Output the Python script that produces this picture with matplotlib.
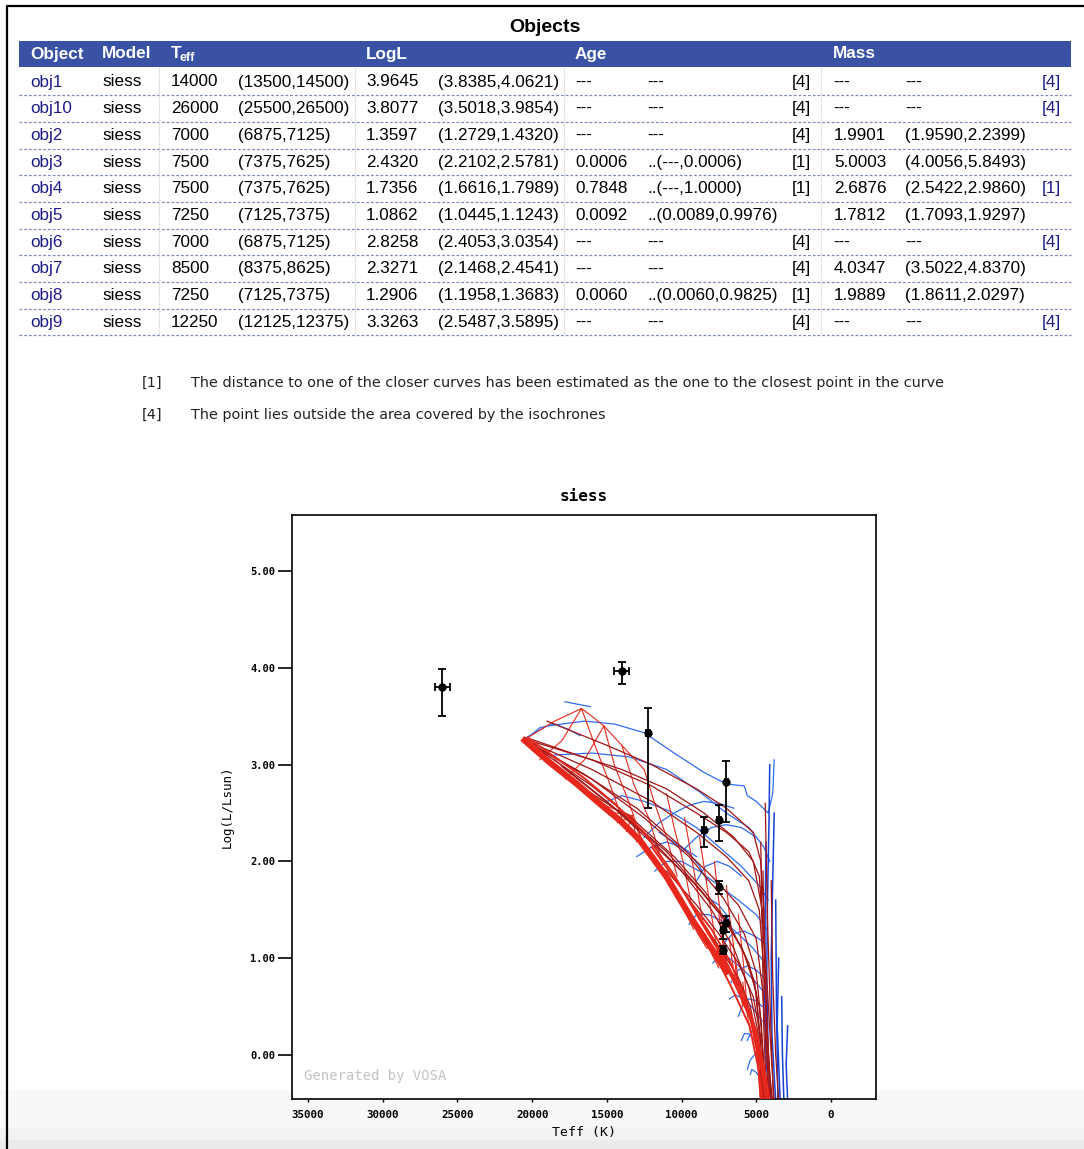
import numpy as np
import matplotlib
matplotlib.use('Agg')
from matplotlib import pyplot as plt

# ---- table data ----
objects = ['obj1', 'obj10', 'obj2', 'obj3', 'obj4', 'obj5', 'obj6', 'obj7', 'obj8', 'obj9']
models = ['siess'] * 10
teff = [14000, 26000, 7000, 7500, 7500, 7250, 7000, 8500, 7250, 12250]
teff_lo = [13500, 25500, 6875, 7375, 7375, 7125, 6875, 8375, 7125, 12125]
teff_hi = [14500, 26500, 7125, 7625, 7625, 7375, 7125, 8625, 7375, 12375]
logl = [3.9645, 3.8077, 1.3597, 2.4320, 1.7356, 1.0862, 2.8258, 2.3271, 1.2906, 3.3263]
logl_lo = [3.8385, 3.5018, 1.2729, 2.2102, 1.6616, 1.0445, 2.4053, 2.1468, 1.1958, 2.5487]
logl_hi = [4.0621, 3.9854, 1.4320, 2.5781, 1.7989, 1.1243, 3.0354, 2.4541, 1.3683, 3.5895]
age = ['---', '---', '---', '0.0006', '0.7848', '0.0092', '---', '---', '0.0060', '---']
age_rng = ['---', '---', '---', '..(---,0.0006)', '..(---,1.0000)', '..(0.0089,0.9976)',
           '---', '---', '..(0.0060,0.9825)', '---']
age_note = ['[4]', '[4]', '[4]', '[1]', '[1]', '', '[4]', '[4]', '[1]', '[4]']
mass = ['---', '---', '1.9901', '5.0003', '2.6876', '1.7812', '---', '4.0347', '1.9889', '---']
mass_rng = ['---', '---', '(1.9590,2.2399)', '(4.0056,5.8493)', '(2.5422,2.9860)',
            '(1.7093,1.9297)', '---', '(3.5022,4.8370)', '(1.8611,2.0297)', '---']
mass_note = ['[4]', '[4]', '', '', '[1]', '', '[4]', '', '', '[4]']

notes = ['[1]', '[4]']
note_txt = ['The distance to one of the closer curves has been estimated as the one to the closest point in the curve',
            'The point lies outside the area covered by the isochrones']

# ---- isochrones / tracks (Teff, logL) ----
zams_t = [20500, 18800, 17000, 15500, 14100, 12800, 11000, 9300, 7600, 7000]
zams_l = [3.25, 3.02, 2.80, 2.60, 2.42, 2.22, 1.84, 1.40, 1.01, 0.86]
ms_low = [
    ([7800, 6600, 5450, 4800, 4550], [1.05, 0.68, 0.30, -0.18, -0.48]),
    ([7600, 6500, 5400, 4900, 4700], [1.08, 0.76, 0.38, 0.00, -0.48]),
    ([20300, 18500, 16500, 14500, 12500, 10500, 8800, 7300, 6200, 5200, 4600, 4350],
     [3.28, 3.08, 2.86, 2.60, 2.30, 1.86, 1.40, 1.02, 0.66, 0.30, -0.20, -0.48]),
    ([12000, 10000, 8500, 7200, 6000, 5100, 4500, 4200],
     [2.15, 1.72, 1.35, 1.02, 0.65, 0.25, -0.20, -0.48]),
    ([9500, 8000, 6800, 5800, 5000, 4400, 4100], [1.60, 1.30, 0.98, 0.62, 0.25, -0.20, -0.48]),
]

iso_dark = [
    ([19000, 15000, 12000, 9000, 7000, 5200, 4700, 4500, 4350, 4200],
     [3.45, 3.20, 3.00, 2.75, 2.55, 2.30, 2.00, 1.50, 0.50, -0.48]),
    ([20400, 16000, 12000, 9000, 7000, 5500, 4800, 4500, 4300, 4100],
     [3.26, 3.05, 2.78, 2.50, 2.30, 2.10, 1.85, 1.20, 0.40, -0.48]),
    ([20400, 16000, 12000, 9000, 7000, 5500, 4800, 4500, 4250, 4000],
     [3.25, 2.95, 2.62, 2.30, 2.05, 1.80, 1.50, 0.90, 0.20, -0.48]),
    ([20300, 16500, 13000, 10000, 8000, 6200, 5000, 4600, 4300, 4150],
     [3.24, 2.90, 2.55, 2.15, 1.85, 1.55, 1.20, 0.70, 0.00, -0.48]),
    ([19500, 16000, 13000, 10500, 8500, 6800, 5500, 4800, 4500, 4350],
     [3.15, 2.78, 2.40, 2.05, 1.70, 1.35, 0.95, 0.50, -0.05, -0.48]),
    ([18500, 15000, 12000, 10000, 8000, 6500, 5500, 4900, 4600],
     [3.05, 2.62, 2.22, 1.90, 1.50, 1.10, 0.70, 0.25, -0.48]),
    ([20200, 17000, 14000, 11000, 8500, 6500, 5200, 4600, 4300, 4000, 3800],
     [3.27, 3.10, 2.95, 2.75, 2.50, 2.25, 2.00, 1.50, 0.80, 0.00, -0.48]),
    ([17000, 14000, 11000, 8800, 7000, 5800, 5000, 4700, 4500],
     [2.80, 2.50, 2.10, 1.72, 1.38, 1.05, 0.65, 0.10, -0.48]),
    ([20000, 16000, 12500, 9500, 7200, 5800, 5000, 4650, 4450],
     [3.20, 2.85, 2.45, 2.05, 1.62, 1.25, 0.85, 0.30, -0.48]),
    ([18000, 14500, 11500, 9200, 7400, 6000, 5100, 4750, 4600],
     [2.98, 2.55, 2.12, 1.78, 1.45, 1.12, 0.75, 0.15, -0.48]),
    ([11000, 9000, 7500, 6200, 5200, 4600, 4400], [1.90, 1.55, 1.25, 0.95, 0.60, 0.10, -0.48]),
    ([8500, 7200, 6200, 5400, 4800, 4500], [1.35, 1.05, 0.80, 0.50, 0.05, -0.48]),
    ([7000, 6200, 5500, 5000, 4700], [0.95, 0.72, 0.45, 0.10, -0.48]),
    ([4700, 4600, 4500, 4300], [2.20, 1.20, 0.30, -0.48]),
    ([4000, 3900, 3700, 3500], [1.80, 0.80, 0.00, -0.48]),
    ([4400, 4250, 4050, 3850], [2.60, 1.40, 0.40, -0.48]),
    ([4550, 4450, 4300, 4100, 3900], [1.90, 1.00, 0.30, -0.20, -0.48]),
]

iso_fan = [
    ([16700, 15800, 14800, 14000], [3.58, 3.20, 2.80, 2.45]),
    ([15200, 14500, 13500, 12600], [3.40, 3.00, 2.60, 2.20]),
    ([14000, 13200, 12200, 11300], [3.20, 2.80, 2.45, 2.00]),
    ([12500, 11800, 11000, 10300], [2.95, 2.60, 2.25, 1.85]),
    ([11000, 10500, 9900, 9400], [2.70, 2.35, 2.00, 1.60]),
    ([9800, 9400, 9000, 8600], [2.45, 2.10, 1.75, 1.40]),
    ([8800, 8500, 8100, 7700], [2.25, 1.95, 1.55, 1.15]),
    ([7800, 7600, 7300, 7000], [2.00, 1.70, 1.35, 0.95]),
    ([7000, 6800, 6500, 6300], [1.75, 1.45, 1.10, 0.75]),
    ([6200, 6000, 5800, 5600], [1.45, 1.15, 0.85, 0.45]),
    ([20500, 18500, 16700, 16000, 15200, 14000, 12500], [3.26, 3.45, 3.58, 3.50, 3.40, 3.20, 2.95]),
    ([16700, 18000, 19500], [3.58, 3.25, 3.05]),
    ([15200, 16500, 17800], [3.40, 3.05, 2.85]),
    ([13300, 15800], [2.47, 2.62]), ([13300, 15000], [2.47, 2.52]),
    ([13300, 14300], [2.47, 2.40]), ([13300, 13700], [2.47, 2.31]),
    ([13300, 13000], [2.47, 2.20]), ([13300, 12400], [2.47, 2.10]),
    ([10500, 9800, 9200], [1.75, 1.50, 1.30]), ([9500, 8900, 8300], [1.50, 1.25, 1.10]),
    ([8400, 8000, 7500], [1.25, 1.05, 0.90]),
    ([7500, 7300, 7000], [1.45, 1.20, 0.95]),
    ([6800, 6600, 6300], [1.20, 0.95, 0.70]),
    ([6400, 6200, 5900], [1.00, 0.75, 0.50]),
    ([5900, 5700, 5400], [0.75, 0.50, 0.25]),
]

tracks = [
    ([3800, 3900, 4200, 5000, 5600, 5800, 7000, 8500, 10500, 12500, 14500, 16500, 19000, 20500],
     [3.05, 2.70, 2.50, 2.62, 2.68, 2.78, 2.80, 2.92, 3.12, 3.33, 3.42, 3.45, 3.40, 3.27]),
    ([17800, 16800, 16100], [3.65, 3.62, 3.60]),
    ([20500, 19500, 18500, 17500, 16800], [3.25, 3.38, 3.42, 3.36, 3.30]),
    ([4100, 4500, 5500, 7000, 8800, 11000, 13500, 16000, 18500],
     [2.00, 2.15, 2.35, 2.50, 2.72, 2.95, 3.08, 3.12, 3.10]),
    ([4200, 4800, 6000, 7500, 9000, 10800, 12500, 14000, 15000],
     [1.60, 1.75, 1.95, 2.15, 2.35, 2.52, 2.62, 2.68, 2.62]),
    ([4300, 5000, 6200, 7500, 8800, 10000, 11000, 11800],
     [1.30, 1.45, 1.60, 1.75, 1.90, 2.00, 2.00, 1.90]),
    ([4400, 5200, 6200, 7200, 8200, 9000, 9500], [0.95, 1.10, 1.25, 1.38, 1.45, 1.45, 1.35]),
    ([4500, 5200, 6000, 6800, 7500, 7900], [0.65, 0.78, 0.90, 1.00, 1.02, 0.95]),
    ([4600, 5200, 5800, 6400, 6800], [0.35, 0.48, 0.58, 0.62, 0.58]),
    ([4700, 5100, 5500, 5800, 6000], [0.05, 0.15, 0.22, 0.22, 0.15]),
    ([4700, 5000, 5300, 5400], [-0.25, -0.18, -0.15, -0.20]),
    ([11500, 10500, 9500, 8800, 8300], [2.30, 2.20, 2.08, 1.95, 1.80]),
    ([8000, 7500, 7000, 6600], [1.60, 1.55, 1.45, 1.30]),
    ([4400, 5000, 5800, 6600, 7200, 7500], [1.15, 1.22, 1.28, 1.25, 1.15, 1.05]),
    ([4500, 5000, 5600, 6200, 6700], [0.80, 0.88, 0.92, 0.88, 0.75]),
    ([4600, 5000, 5500, 5900, 6200], [0.50, 0.56, 0.58, 0.52, 0.40]),
    ([4700, 5000, 5300, 5600], [0.20, 0.25, 0.25, 0.15]),
    ([4300, 4600, 5000, 5400, 5600], [-0.05, 0.00, 0.02, -0.05, -0.15]),
    ([6000, 6800, 7600, 8400, 9000], [1.85, 1.95, 2.00, 1.95, 1.80]),
    ([5000, 6000, 7000, 8000, 9000, 10000], [2.25, 2.35, 2.38, 2.35, 2.25, 2.10]),
    ([6500, 7500, 8500, 9500, 10500, 11500, 12500], [2.55, 2.60, 2.62, 2.58, 2.50, 2.40, 2.25]),
    ([9000, 10000, 11000, 12000, 13000], [2.05, 2.15, 2.20, 2.15, 2.05]),
]
hayashi = [
    ([4100, 4150, 4250, 4300, 4200, 4000], [3.00, 2.40, 1.60, 0.80, 0.00, -0.48]),
    ([3800, 3900, 4000, 3950, 3700], [2.50, 1.80, 1.00, 0.20, -0.48]),
    ([4350, 4400, 4450, 4350, 4150], [2.20, 1.50, 0.70, 0.00, -0.48]),
    ([3500, 3600, 3400], [1.00, 0.30, -0.48]),
    ([2900, 3000, 2900], [0.30, -0.10, -0.48]),
    ([3300, 3250, 3150], [0.60, 0.00, -0.48]),
    ([3700, 3650, 3550], [1.60, 0.50, -0.48]),
]

# ---- figure ----
fig = plt.figure(figsize=(10.84, 11.49), dpi=100)
page = fig.add_axes([0, 0, 1, 1])
page.set_xlim(0, 1084)
page.set_ylim(1149, 0)
page.axis('off')

# bottom grey band of the page
page.fill_between([0, 1084], 1090, 1128, color='#f8f8f8', lw=0, zorder=0)
page.fill_between([0, 1084], 1128, 1140, color='#f2f2f2', lw=0, zorder=0)
page.fill_between([0, 1084], 1140, 1149, color='#ebebeb', lw=0, zorder=0)
page.plot([7, 7, 1084], [1149, 6, 6], color='black', lw=1.6)

tf = 'Liberation Sans'
fs = 12.3
navy = '#1c1c8a'
page.text(545, 27, 'Objects', ha='center', va='center', fontsize=14, fontweight='bold', family=tf)
page.fill_between([19, 1071], 41, 67, color='#3a52a3', lw=0)
hdr = [(30, 'Object'), (102, 'Model'), (366, 'LogL'), (575, 'Age'), (833, 'Mass')]
for x, s in hdr:
    page.text(x, 54, s, ha='left', va='center', color='white', fontsize=fs, fontweight='bold', family=tf)
page.text(171, 54, 'T', ha='left', va='center', color='white', fontsize=fs, fontweight='bold', family=tf)
page.text(180, 58, 'eff', ha='left', va='center', color='white', fontsize=9, fontweight='bold', family=tf)

row_y = 82
dy = 26.7
for i in range(len(objects)):
    y = row_y + i * dy
    page.text(30, y, objects[i], va='center', fontsize=fs, family=tf, color=navy)
    page.text(102, y, models[i], va='center', fontsize=fs, family=tf)
    page.text(171, y, str(teff[i]), va='center', fontsize=fs, family=tf)
    page.text(238, y, '(%d,%d)' % (teff_lo[i], teff_hi[i]), va='center', fontsize=fs, family=tf)
    page.text(366, y, '%.4f' % logl[i], va='center', fontsize=fs, family=tf)
    page.text(438, y, '(%.4f,%.4f)' % (logl_lo[i], logl_hi[i]), va='center', fontsize=fs, family=tf)
    page.text(575, y, age[i], va='center', fontsize=fs, family=tf)
    page.text(647, y, age_rng[i], va='center', fontsize=fs, family=tf)
    page.text(792, y, age_note[i], va='center', fontsize=fs, family=tf)
    page.text(833 if mass[i] == '---' else 834, y, mass[i], va='center', fontsize=fs, family=tf)
    page.text(905, y, mass_rng[i], va='center', fontsize=fs, family=tf)
    page.text(1042, y, mass_note[i], va='center', fontsize=fs, family=tf, color=navy)
    page.plot([19, 1071], [y + 13.2, y + 13.2], color='#7f88c0', lw=0.9, ls=(0, (2.2, 1.6)))
for x in [159, 355, 564, 821]:
    page.plot([x, x], [68, 335], color='#c8c8c8', lw=0.8, ls=(0, (1, 1)))

for k in range(len(notes)):
    y = 383 + k * 32
    page.text(142, y, notes[k], va='center', fontsize=10.4, family='DejaVu Sans', color='#222222')
    page.text(191, y, note_txt[k], va='center', fontsize=10.4, family='DejaVu Sans', color='#222222')

# ---- HR diagram ----
mono = 'DejaVu Sans Mono'
ax = fig.add_axes([292 / 1084, 1 - 1099 / 1149, 584 / 1084, 584 / 1149])
ax.set_facecolor('white')
red = '#e8281c'
dred = '#a31414'
blue = '#2f6cf2'
dblue = '#1442d6'

for t, l in tracks:
    ax.plot(t, l, color=blue, lw=0.9, zorder=2)
for t, l in iso_fan:
    ax.plot(t, l, color=red, lw=0.8, zorder=3)
for t, l in iso_dark:
    ax.plot(t, l, color=dred, lw=0.9, zorder=3)
for t, l in hayashi:
    ax.plot(t, l, color=dblue, lw=1.1, zorder=2)
for t, l in ms_low:
    ax.plot(t, l, color=red, lw=1.4, zorder=4)
ax.plot(zams_t, zams_l, color=red, lw=4.5, zorder=4)

teff_a = np.array(teff)
logl_a = np.array(logl)
xerr = [teff_a - np.array(teff_lo), np.array(teff_hi) - teff_a]
yerr = [logl_a - np.array(logl_lo), np.array(logl_hi) - logl_a]
ax.errorbar(teff_a, logl_a, xerr=xerr, yerr=yerr, fmt='o', color='black', ms=5,
            elinewidth=1.3, capsize=3, capthick=1.3, zorder=6)

ax.set_xlim(36071, -3012)
ax.set_ylim(-0.455, 5.58)
ax.set_xticks([35000, 30000, 25000, 20000, 15000, 10000, 5000, 0])
ax.set_xticklabels(['%d' % v for v in ax.get_xticks()])
ax.set_yticks([0, 1, 2, 3, 4, 5])
ax.set_yticklabels(['%.2f' % v for v in ax.get_yticks()])
ax.tick_params(axis='y', direction='out', length=10, width=1.2, pad=2, labelsize=7.5)
ax.tick_params(axis='x', direction='out', length=2, width=1.0, pad=6, labelsize=7.8)
for lab in ax.get_xticklabels() + ax.get_yticklabels():
    lab.set_family(mono)
    lab.set_fontweight('bold')
for sp in ax.spines.values():
    sp.set_linewidth(1.2)
ax.set_title('siess', fontsize=11.5, fontweight='bold', family=mono, pad=10)
ax.set_xlabel('Teff (K)', fontsize=9.5, family=mono, labelpad=4)
ax.set_ylabel('Log(L/Lsun)', fontsize=9, family=mono, labelpad=12)
ax.text(0.02, 0.04, 'Generated by VOSA', transform=ax.transAxes, fontsize=10,
        family=mono, color='#c4c4c4', va='center')

fig.savefig('out.png', dpi=100)
